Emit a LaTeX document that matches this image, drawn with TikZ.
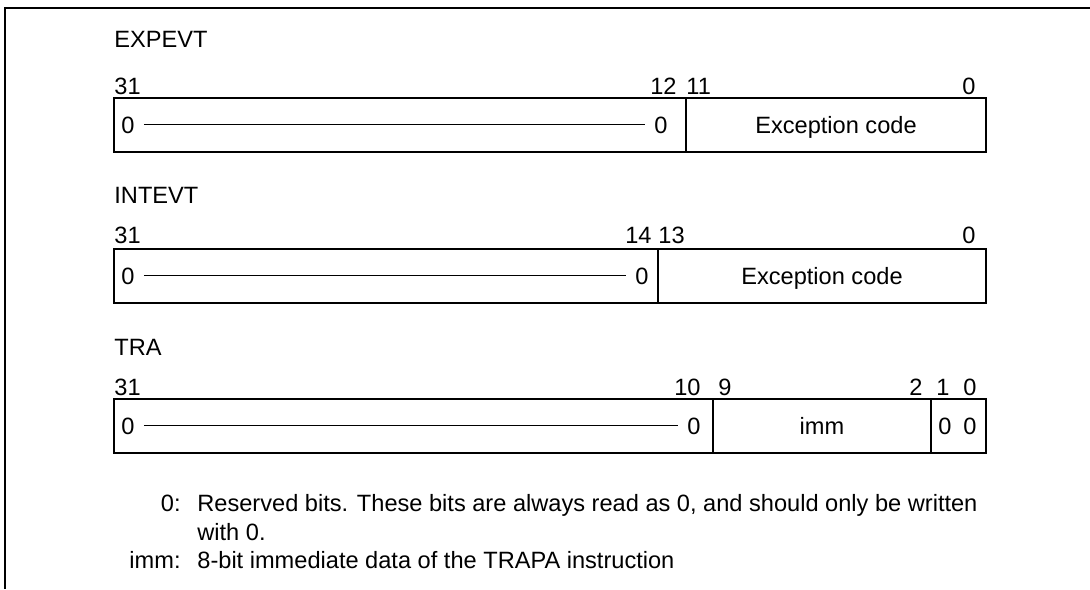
\documentclass[tikz,border=0pt]{standalone}
\usepackage{fontspec}
\setmainfont{Liberation Sans}
\usetikzlibrary{positioning}

\begin{document}
\begin{tikzpicture}[
x=0.5pt, y=-0.5pt,
font=\fontsize{11.8}{13}\selectfont,
field/.style={draw, line width=0.6pt},
frame/.style={draw, line width=1pt},
txt/.style={inner sep=0pt, anchor=base west},
txtr/.style={inner sep=0pt, anchor=base east},
txtc/.style={inner sep=0pt, anchor=base},
zero/.style={inner ysep=0pt, inner xsep=4.5pt},
rule/.style={line width=0.6pt}
]
\useasboundingbox (0,0) rectangle (1090,589);
\draw[frame] (1090,8) -- (5,8) -- (5,589);

% EXPEVT
\node[txt] (expname) at (114,47) {EXPEVT};
\node[txt] (exp31) at (114,94) {31};
\node[txtr] (exp12) at (677,94) {12};
\node[txt] (exp11) at (686,94) {11};
\node[txtr] (exp0) at (976,94) {0};
\draw[field] (114,98) rectangle (986,152);
\draw[field] (686,98) -- (686,152);
\node[zero, anchor=base west] (expzl) at (112,133) {0};
\node[zero, anchor=base east] (expzr) at (677,133) {0};
\node[txtc] (expcode) at (836,133) {Exception code};
\draw[rule] (expzl) -- (expzr);

% INTEVT
\node[txt] (intname) at (114,203) {INTEVT};
\node[txt] (int31) at (114,243) {31};
\node[txtr] (int14) at (652,243) {14};
\node[txt] (int13) at (658,243) {13};
\node[txtr] (int0) at (976,243) {0};
\draw[field] (114,249) rectangle (986,303);
\draw[field] (658,249) -- (658,303);
\node[zero, anchor=base west] (intzl) at (112,284) {0};
\node[zero, anchor=base east] (intzr) at (658,284) {0};
\node[txtc] (intcode) at (822,284) {Exception code};
\draw[rule] (intzl) -- (intzr);

% TRA
\node[txt] (traname) at (114,355) {TRA};
\node[txt] (tra31) at (114,395) {31};
\node[txtr] (tra10) at (701,395) {10};
\node[txt] (tra9) at (718,395) {9};
\node[txtr] (tra2) at (923,395) {2};
\node[txtc] (tra1) at (943,395) {1};
\node[txtc] (tra0) at (970,395) {0};
\draw[field] (114,399) rectangle (986,453);
\draw[field] (713,399) -- (713,453);
\draw[field] (931,399) -- (931,453);
\node[zero, anchor=base west] (trazl) at (112,434) {0};
\node[zero, anchor=base east] (trazr) at (710,434) {0};
\node[txtc] (traimm) at (822,434) {imm};
\node[txtc] (trab1) at (945,434) {0};
\node[txtc] (trab0) at (970,434) {0};
\draw[rule] (trazl) -- (trazr);

% notes
\node[txtr] (notezero) at (181,511) {0:};
\node[txt] (notezerotxt) at (197,511) {Reserved bits. These bits are always read as 0, and should only be written};
\node[txt] (notezerocont) at (197,540) {with 0.};
\node[txtr] (noteimm) at (181,568) {imm:};
\node[txt] (noteimmtxt) at (197,568) {8-bit immediate data of the TRAPA instruction};
\end{tikzpicture}
\end{document}
